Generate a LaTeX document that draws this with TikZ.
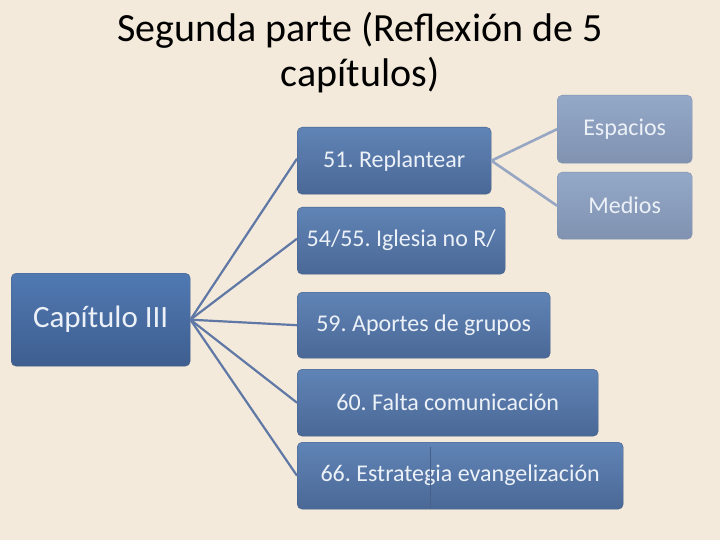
\documentclass[tikz,border=0pt]{standalone}
\usepackage{fontspec}
\setmainfont{Carlito}
\frenchspacing
\definecolor{bg}{RGB}{243,234,219}
\definecolor{boxtop}{RGB}{96,132,182}
\definecolor{boxbot}{RGB}{74,104,150}
\definecolor{maintop}{RGB}{80,121,178}
\definecolor{mainbot}{RGB}{62,94,143}
\definecolor{lighttop}{RGB}{148,168,200}
\definecolor{lightbot}{RGB}{128,146,176}
\definecolor{linecol}{RGB}{96,120,165}
\definecolor{lightline}{RGB}{150,166,195}
\definecolor{boxtext}{RGB}{236,241,248}
\definecolor{boxedge}{RGB}{70,96,138}
\begin{document}
\begin{tikzpicture}[x=1pt,y=-1pt,
  boxbase/.style={rounded corners=5pt, inner sep=0pt, anchor=north west, text=boxtext, draw=boxedge, line width=0.4pt},
  childbox/.style={boxbase, top color=boxtop, bottom color=boxbot, font=\fontsize{24}{28}\selectfont},
  mainbox/.style={boxbase, top color=maintop, bottom color=mainbot, font=\fontsize{31}{36}\selectfont},
  leafbox/.style={boxbase, top color=lighttop, bottom color=lightbot, draw=lightbot, font=\fontsize{24}{28}\selectfont},
  conn/.style={draw=linecol, line width=2.2pt},
  lconn/.style={draw=lightline, line width=2.6pt}]
\fill[bg] (0,0) rectangle (720,540);
\useasboundingbox (0,0) rectangle (720,540);
\node[font=\fontsize{40}{45}\selectfont, align=center] (title) at (360,53) {Segunda parte (Reflexión de 5\\capítulos)};
\node[mainbox, minimum width=179pt, minimum height=93pt] (cap) at (11,273) {Capítulo III};
\node[childbox, minimum width=194pt, minimum height=67pt] (n51) at (297,127) {51. Replantear};
\node[childbox, minimum width=208pt, minimum height=67pt] (n54) at (297,207) {54/55. Iglesia no R/};
\node[childbox, minimum width=253pt, minimum height=66pt] (n59) at (297,292) {59. Aportes de grupos};
\node[childbox, minimum width=301pt, minimum height=67pt] (n60) at (297,369) {60. Falta comunicación};
\node[childbox, minimum width=326pt, minimum height=67pt] (n66) at (297,442) {66. Estrategia evangelización};
\node[leafbox, minimum width=135pt, minimum height=68pt] (esp) at (557,95) {Espacios};
\node[leafbox, minimum width=135pt, minimum height=67pt] (med) at (557,172) {Medios};
\coordinate (v1) at ([xshift=133pt,yshift=-5pt]n66.north west);
\coordinate (v2) at ([xshift=133pt,yshift=1pt]n66.south west);
\draw[draw=boxedge, line width=0.6pt] (v1) -- (v2);
\draw[conn] (cap.east) -- ([yshift=2pt]n51.west);
\draw[conn] (cap.east) -- ([yshift=2pt]n54.west);
\draw[conn] (cap.east) -- ([yshift=0pt]n59.west);
\draw[conn] (cap.east) -- (n60.west);
\draw[conn] (cap.east) -- (n66.west);
\draw[lconn] (n51.east) -- (esp.west);
\draw[lconn] (n51.east) -- (med.west);
\end{tikzpicture}
\end{document}
